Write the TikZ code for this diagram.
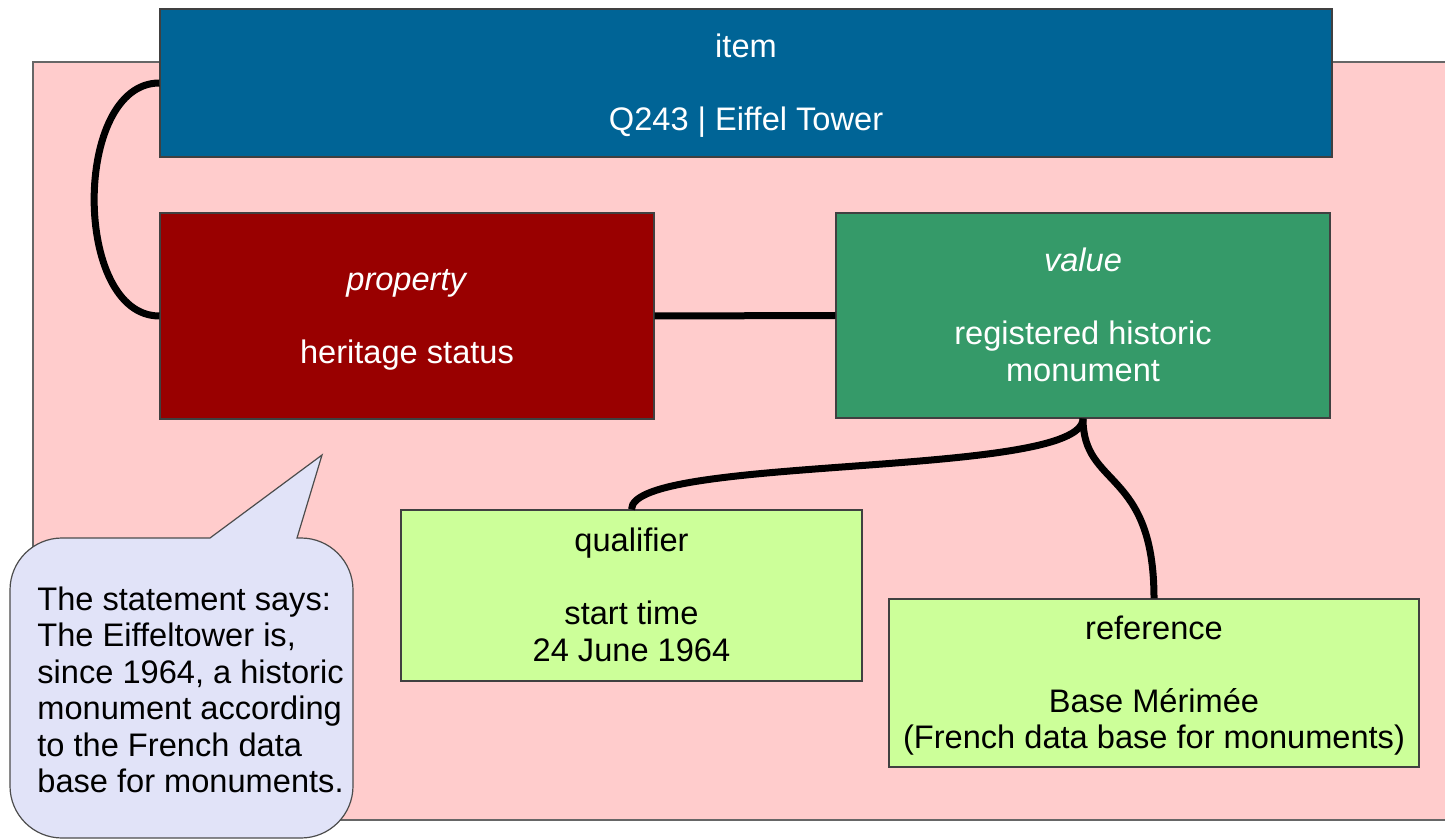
\documentclass[tikz,border=0pt]{standalone}
\usepackage{fontspec}
\setmainfont{Liberation Sans}
\definecolor{bgpink}{HTML}{FFCCCC}
\definecolor{itemblue}{HTML}{006496}
\definecolor{propred}{HTML}{990000}
\definecolor{valgreen}{HTML}{359A69}
\definecolor{lightgreen}{HTML}{CCFF99}
\definecolor{notefill}{HTML}{E1E3F8}
\newcommand\mytop{\rule{0pt}{15pt}}
\newcommand\mybot{\rule[-4pt]{0pt}{4pt}}
\begin{document}
\begin{tikzpicture}[x=0.5pt,y=-0.5pt,
  font=\fontsize{16.3}{18.25}\selectfont,
  box/.style={draw=black!75, line width=0.6pt, inner sep=0pt, align=center},
  darkbox/.style={box, text=white},
  lightbox/.style={box, fill=lightgreen, text=black},
  conn/.style={line width=3.5pt, black},
  frame/.style={draw=black!60, line width=0.6pt, fill=bgpink},
  notestyle/.style={draw=black!70, line width=0.6pt, fill=notefill}]
\useasboundingbox (0,0) rectangle (1445,839);
% statement background
\path[frame] (33,62) rectangle (1460,820);
% nodes
\node[darkbox, fill=itemblue, minimum width=586pt, minimum height=74pt] (item) at (746,83)
  {\mytop item\\[18.25pt]Q243 | Eiffel Tower\mybot};
\node[darkbox, fill=propred, minimum width=247pt, minimum height=103pt] (prop) at (407,316)
  {\mytop\textit{property}\\[18.25pt]heritage status\mybot};
\node[darkbox, fill=valgreen, minimum width=247pt, minimum height=102.5pt] (val) at (1083,315.5)
  {\mytop\textit{value}\\[18.25pt]registered historic\\monument\mybot};
\node[lightbox, minimum width=230.5pt, minimum height=85.5pt] (qual) at (631.5,595.5)
  {\mytop qualifier\\[18.25pt]start time\\24 June 1964\mybot};
\node[lightbox, minimum width=265pt, minimum height=84pt] (ref) at (1154,683)
  {\mytop reference\\[18.25pt]Base Mérimée\\(French data base for monuments)\mybot};
% connectors
\draw[conn] (item.west) .. controls +(-87,0) and +(-87,0) .. (prop.west);
\draw[conn] (prop.east) -- (val.west);
\draw[conn] (val.south) .. controls +(0,60) and +(0,-55) .. (qual.north);
\draw[conn] (val.south) .. controls +(0,70) and +(0,-130) .. (ref.north);
% callout
\path[notestyle] (210,538) -- (322,455) -- (297,538) -- (301,538)
  .. controls (329.7,538) and (353,561.3) .. (353,590) -- (353,786)
  .. controls (353,814.7) and (329.7,838) .. (301,838) -- (62,838)
  .. controls (33.3,838) and (10,814.7) .. (10,786) -- (10,590)
  .. controls (10,561.3) and (33.3,538) .. (62,538) -- cycle;
\node[anchor=north west, inner sep=0pt, align=left, text=black] (note) at (37,586)
  {The statement says:\\The Eiffeltower is,\\since 1964, a historic\\monument according\\to the French data\\base for monuments.};
\end{tikzpicture}
\end{document}
